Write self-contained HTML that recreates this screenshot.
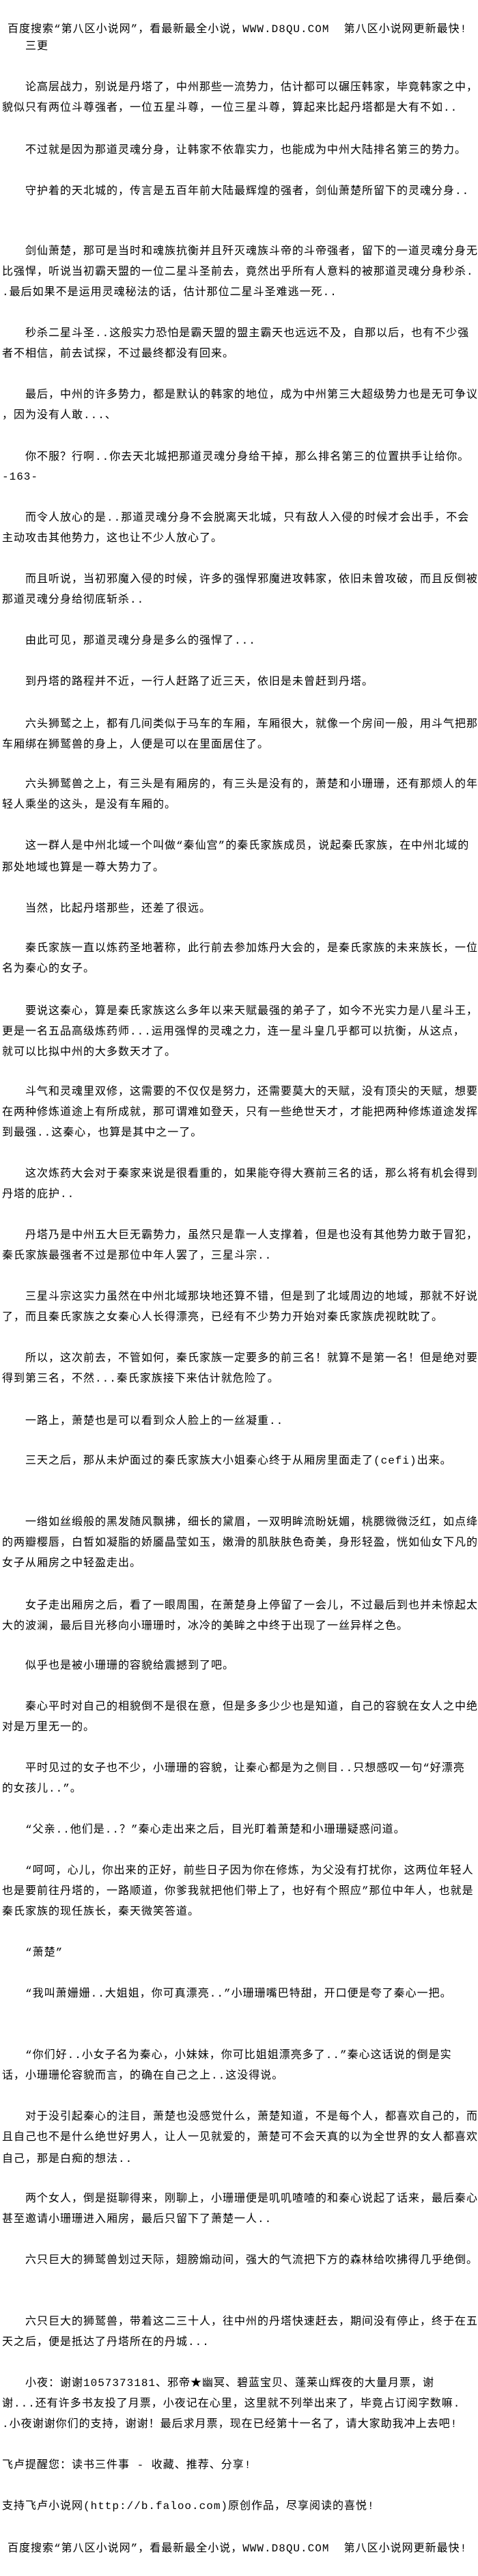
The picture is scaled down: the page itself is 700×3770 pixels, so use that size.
<!DOCTYPE html>
<html><head><meta charset="utf-8">
<style>
html,body{margin:0;padding:0;background:#fff;}
body{width:700px;height:3770px;position:relative;overflow:hidden;
font-family:"Liberation Mono","Noto Sans CJK SC","WenQuanYi Zen Hei",monospace;
font-size:16px;letter-spacing:1px;color:#000;}
.l{position:absolute;left:3px;height:22px;line-height:22px;white-space:pre;}
</style></head><body>
<div class="l" style="top:32px;left:11px">百度搜索“第八区小说网”，看最新最全小说，WWW.D8QU.COM  第八区小说网更新最快!</div>
<div class="l" style="top:57px">　　三更</div>
<div class="l" style="top:117px">　　论高层战力，别说是丹塔了，中州那些一流势力，估计都可以碾压韩家，毕竟韩家之中，</div>
<div class="l" style="top:147px">貌似只有两位斗尊强者，一位五星斗尊，一位三星斗尊，算起来比起丹塔都是大有不如..</div>
<div class="l" style="top:209px">　　不过就是因为那道灵魂分身，让韩家不依靠实力，也能成为中州大陆排名第三的势力。</div>
<div class="l" style="top:269px">　　守护着的天北城的，传言是五百年前大陆最辉煌的强者，剑仙萧楚所留下的灵魂分身..</div>
<div class="l" style="top:357px">　　剑仙萧楚，那可是当时和魂族抗衡并且歼灭魂族斗帝的斗帝强者，留下的一道灵魂分身无</div>
<div class="l" style="top:387px">比强悍，听说当初霸天盟的一位二星斗圣前去，竟然出乎所有人意料的被那道灵魂分身秒杀.</div>
<div class="l" style="top:417px">.最后如果不是运用灵魂秘法的话，估计那位二星斗圣难逃一死..</div>
<div class="l" style="top:477px">　　秒杀二星斗圣..这般实力恐怕是霸天盟的盟主霸天也远远不及，自那以后，也有不少强</div>
<div class="l" style="top:507px">者不相信，前去试探，不过最终都没有回来。</div>
<div class="l" style="top:567px">　　最后，中州的许多势力，都是默认的韩家的地位，成为中州第三大超级势力也是无可争议</div>
<div class="l" style="top:597px">，因为没有人敢...、</div>
<div class="l" style="top:658px">　　你不服？行啊..你去天北城把那道灵魂分身给干掉，那么排名第三的位置拱手让给你。</div>
<div class="l" style="top:687px">-163-</div>
<div class="l" style="top:747px">　　而令人放心的是..那道灵魂分身不会脱离天北城，只有敌人入侵的时候才会出手，不会</div>
<div class="l" style="top:777px">主动攻击其他势力，这也让不少人放心了。</div>
<div class="l" style="top:837px">　　而且听说，当初邪魔入侵的时候，许多的强悍邪魔进攻韩家，依旧未曾攻破，而且反倒被</div>
<div class="l" style="top:867px">那道灵魂分身给彻底斩杀..</div>
<div class="l" style="top:927px">　　由此可见，那道灵魂分身是多么的强悍了...</div>
<div class="l" style="top:987px">　　到丹塔的路程并不近，一行人赶路了近三天，依旧是未曾赶到丹塔。</div>
<div class="l" style="top:1049px">　　六头狮鹫之上，都有几间类似于马车的车厢，车厢很大，就像一个房间一般，用斗气把那</div>
<div class="l" style="top:1079px">车厢绑在狮鹫兽的身上，人便是可以在里面居住了。</div>
<div class="l" style="top:1137px">　　六头狮鹫兽之上，有三头是有厢房的，有三头是没有的，萧楚和小珊珊，还有那烦人的年</div>
<div class="l" style="top:1167px">轻人乘坐的这头，是没有车厢的。</div>
<div class="l" style="top:1227px">　　这一群人是中州北域一个叫做“秦仙宫”的秦氏家族成员，说起秦氏家族，在中州北域的</div>
<div class="l" style="top:1259px">那处地域也算是一尊大势力了。</div>
<div class="l" style="top:1319px">　　当然，比起丹塔那些，还差了很远。</div>
<div class="l" style="top:1377px">　　秦氏家族一直以炼药圣地著称，此行前去参加炼丹大会的，是秦氏家族的未来族长，一位</div>
<div class="l" style="top:1407px">名为秦心的女子。</div>
<div class="l" style="top:1469px">　　要说这秦心，算是秦氏家族这么多年以来天赋最强的弟子了，如今不光实力是八星斗王，</div>
<div class="l" style="top:1499px">更是一名五品高级炼药师...运用强悍的灵魂之力，连一星斗皇几乎都可以抗衡，从这点，</div>
<div class="l" style="top:1529px">就可以比拟中州的大多数天才了。</div>
<div class="l" style="top:1587px">　　斗气和灵魂里双修，这需要的不仅仅是努力，还需要莫大的天赋，没有顶尖的天赋，想要</div>
<div class="l" style="top:1617px">在两种修炼道途上有所成就，那可谓难如登天，只有一些绝世天才，才能把两种修炼道途发挥</div>
<div class="l" style="top:1647px">到最强..这秦心，也算是其中之一了。</div>
<div class="l" style="top:1707px">　　这次炼药大会对于秦家来说是很看重的，如果能夺得大赛前三名的话，那么将有机会得到</div>
<div class="l" style="top:1737px">丹塔的庇护..</div>
<div class="l" style="top:1797px">　　丹塔乃是中州五大巨无霸势力，虽然只是靠一人支撑着，但是也没有其他势力敢于冒犯，</div>
<div class="l" style="top:1827px">秦氏家族最强者不过是那位中年人罢了，三星斗宗..</div>
<div class="l" style="top:1887px">　　三星斗宗这实力虽然在中州北域那块地还算不错，但是到了北域周边的地域，那就不好说</div>
<div class="l" style="top:1917px">了，而且秦氏家族之女秦心人长得漂亮，已经有不少势力开始对秦氏家族虎视眈眈了。</div>
<div class="l" style="top:1977px">　　所以，这次前去，不管如何，秦氏家族一定要多的前三名！就算不是第一名！但是绝对要</div>
<div class="l" style="top:2007px">得到第三名，不然...秦氏家族接下来估计就危险了。</div>
<div class="l" style="top:2069px">　　一路上，萧楚也是可以看到众人脸上的一丝凝重..</div>
<div class="l" style="top:2127px">　　三天之后，那从未炉面过的秦氏家族大小姐秦心终于从厢房里面走了(cefi)出来。</div>
<div class="l" style="top:2217px">　　一绺如丝缎般的黑发随风飘拂，细长的黛眉，一双明眸流盼妩媚，桃腮微微泛红，如点绛</div>
<div class="l" style="top:2247px">的两瓣樱唇，白皙如凝脂的娇靥晶莹如玉，嫩滑的肌肤肤色奇美，身形轻盈，恍如仙女下凡的</div>
<div class="l" style="top:2277px">女子从厢房之中轻盈走出。</div>
<div class="l" style="top:2339px">　　女子走出厢房之后，看了一眼周围，在萧楚身上停留了一会儿，不过最后到也并未惊起太</div>
<div class="l" style="top:2369px">大的波澜，最后目光移向小珊珊时，冰冷的美眸之中终于出现了一丝异样之色。</div>
<div class="l" style="top:2427px">　　似乎也是被小珊珊的容貌给震撼到了吧。</div>
<div class="l" style="top:2487px">　　秦心平时对自己的相貌倒不是很在意，但是多多少少也是知道，自己的容貌在女人之中绝</div>
<div class="l" style="top:2517px">对是万里无一的。</div>
<div class="l" style="top:2577px">　　平时见过的女子也不少，小珊珊的容貌，让秦心都是为之侧目..只想感叹一句“好漂亮</div>
<div class="l" style="top:2607px">的女孩儿..”。</div>
<div class="l" style="top:2667px">　　“父亲..他们是..？”秦心走出来之后，目光盯着萧楚和小珊珊疑惑问道。</div>
<div class="l" style="top:2727px">　　“呵呵，心儿，你出来的正好，前些日子因为你在修炼，为父没有打扰你，这两位年轻人</div>
<div class="l" style="top:2757px">也是要前往丹塔的，一路顺道，你爹我就把他们带上了，也好有个照应”那位中年人，也就是</div>
<div class="l" style="top:2787px">秦氏家族的现任族长，秦天微笑答道。</div>
<div class="l" style="top:2847px">　　“萧楚”</div>
<div class="l" style="top:2907px">　　“我叫萧姗姗..大姐姐，你可真漂亮..”小珊珊嘴巴特甜，开口便是夸了秦心一把。</div>
<div class="l" style="top:2997px">　　“你们好..小女子名为秦心，小妹妹，你可比姐姐漂亮多了..”秦心这话说的倒是实</div>
<div class="l" style="top:3027px">话，小珊珊伦容貌而言，的确在自己之上..这没得说。</div>
<div class="l" style="top:3087px">　　对于没引起秦心的注目，萧楚也没感觉什么，萧楚知道，不是每个人，都喜欢自己的，而</div>
<div class="l" style="top:3117px">且自己也不是什么绝世好男人，让人一见就爱的，萧楚可不会天真的以为全世界的女人都喜欢</div>
<div class="l" style="top:3149px">自己，那是白痴的想法..</div>
<div class="l" style="top:3207px">　　两个女人，倒是挺聊得来，刚聊上，小珊珊便是叽叽喳喳的和秦心说起了话来，最后秦心</div>
<div class="l" style="top:3237px">甚至邀请小珊珊进入厢房，最后只留下了萧楚一人..</div>
<div class="l" style="top:3297px">　　六只巨大的狮鹫兽划过天际，翅膀煽动间，强大的气流把下方的森林给吹拂得几乎绝倒。</div>
<div class="l" style="top:3387px">　　六只巨大的狮鹫兽，带着这二三十人，往中州的丹塔快速赶去，期间没有停止，终于在五</div>
<div class="l" style="top:3417px">天之后，便是抵达了丹塔所在的丹城...</div>
<div class="l" style="top:3477px">　　小夜：谢谢1057373181、邪帝★幽冥、碧蓝宝贝、蓬莱山辉夜的大量月票，谢</div>
<div class="l" style="top:3507px">谢...还有许多书友投了月票，小夜记在心里，这里就不列举出来了，毕竟占订阅字数嘛.</div>
<div class="l" style="top:3537px">.小夜谢谢你们的支持，谢谢！最后求月票，现在已经第十一名了，请大家助我冲上去吧!</div>
<div class="l" style="top:3597px">飞卢提醒您：读书三件事 - 收藏、推荐、分享!</div>
<div class="l" style="top:3657px">支持飞卢小说网(http://b.faloo.com)原创作品，尽享阅读的喜悦!</div>
<div class="l" style="top:3719px;left:11px">百度搜索“第八区小说网”，看最新最全小说，WWW.D8QU.COM  第八区小说网更新最快!</div>
</body></html>
